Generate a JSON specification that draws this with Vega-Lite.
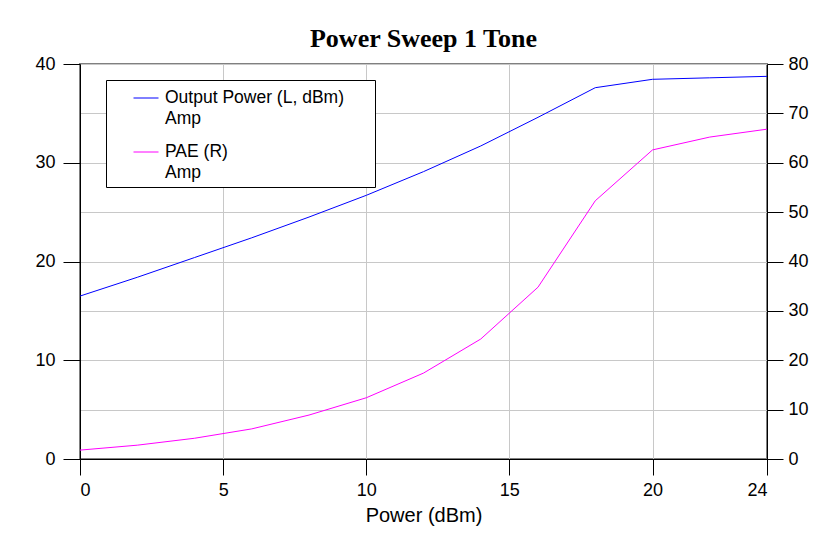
{
  "$schema": "https://vega.github.io/schema/vega-lite/v6.json",
  "width": 687,
  "height": 395,
  "autosize": {"type": "none"},
  "padding": {"left": 80, "top": 64, "right": 58, "bottom": 86},
  "background": "white",
  "title": {"text": "Power Sweep 1 Tone", "font": "Liberation Serif", "fontSize": 26, "fontWeight": "bold", "color": "black", "anchor": "middle", "offset": 3},
  "config": {
    "view": {"stroke": "#808080", "strokeWidth": 2},
    "axis": {
      "labelFont": "Liberation Sans", "labelFontSize": 18, "labelColor": "black",
      "titleFont": "Liberation Sans", "titleFontSize": 20, "titleFontWeight": "normal", "titleColor": "black",
      "tickColor": "black", "tickSize": 16, "domainColor": "black", "labelPadding": 6,
      "gridColor": "#c8c8c8", "gridWidth": 1
    }
  },
  "data": {
    "values": [
      {"power": 0, "series": "Output Power (L, dBm)", "value": 16.5},
      {"power": 2, "series": "Output Power (L, dBm)", "value": 18.4},
      {"power": 4, "series": "Output Power (L, dBm)", "value": 20.4},
      {"power": 6, "series": "Output Power (L, dBm)", "value": 22.4},
      {"power": 8, "series": "Output Power (L, dBm)", "value": 24.5},
      {"power": 10, "series": "Output Power (L, dBm)", "value": 26.7},
      {"power": 12, "series": "Output Power (L, dBm)", "value": 29.1},
      {"power": 14, "series": "Output Power (L, dBm)", "value": 31.7},
      {"power": 16, "series": "Output Power (L, dBm)", "value": 34.6},
      {"power": 18, "series": "Output Power (L, dBm)", "value": 37.6},
      {"power": 20, "series": "Output Power (L, dBm)", "value": 38.45},
      {"power": 22, "series": "Output Power (L, dBm)", "value": 38.6},
      {"power": 24, "series": "Output Power (L, dBm)", "value": 38.75},
      {"power": 0, "series": "PAE (R)", "value": 1.8},
      {"power": 2, "series": "PAE (R)", "value": 2.8},
      {"power": 4, "series": "PAE (R)", "value": 4.2},
      {"power": 6, "series": "PAE (R)", "value": 6.1},
      {"power": 8, "series": "PAE (R)", "value": 8.9},
      {"power": 10, "series": "PAE (R)", "value": 12.4},
      {"power": 12, "series": "PAE (R)", "value": 17.4},
      {"power": 14, "series": "PAE (R)", "value": 24.3},
      {"power": 16, "series": "PAE (R)", "value": 34.8},
      {"power": 18, "series": "PAE (R)", "value": 52.3},
      {"power": 20, "series": "PAE (R)", "value": 62.6},
      {"power": 22, "series": "PAE (R)", "value": 65.2},
      {"power": 24, "series": "PAE (R)", "value": 66.8}
    ]
  },
  "encoding": {
    "x": {
      "field": "power", "type": "quantitative",
      "scale": {"domain": [0, 24], "nice": false, "zero": false},
      "axis": {"values": [0, 5, 10, 15, 20, 24], "title": "Power (dBm)", "grid": true, "titlePadding": 6}
    },
    "color": {
      "field": "series", "type": "nominal",
      "scale": {"domain": ["Output Power (L, dBm)", "PAE (R)"], "range": ["#0000ff", "#ff00ff"]},
      "legend": {
        "orient": "none", "legendX": 26, "legendY": 16, "title": null,
        "fillColor": "white", "strokeColor": "black", "padding": 5,
        "labelFont": "Liberation Sans", "labelFontSize": 17.5, "labelColor": "black",
        "symbolType": "stroke", "symbolSize": 625, "symbolStrokeWidth": 1,
        "symbolOffset": 22, "labelOffset": 6, "rowPadding": 11, "labelLimit": 400,
        "labelExpr": "[datum.label + '\u2800\u2800', 'Amp']",
        "encode": {"labels": {"update": {"lineHeight": {"value": 21}}}}
      }
    }
  },
  "layer": [
    {
      "transform": [{"filter": "datum.series === 'Output Power (L, dBm)'"}],
      "mark": {"type": "line", "strokeWidth": 1},
      "encoding": {
        "y": {
          "field": "value", "type": "quantitative",
          "scale": {"domain": [0, 40], "nice": false},
          "axis": {"orient": "left", "values": [0, 10, 20, 30, 40], "title": null, "grid": false, "tickSize": 17, "labelPadding": 8}
        }
      }
    },
    {
      "transform": [{"filter": "datum.series === 'PAE (R)'"}],
      "mark": {"type": "line", "strokeWidth": 1},
      "encoding": {
        "y": {
          "field": "value", "type": "quantitative",
          "scale": {"domain": [0, 80], "nice": false},
          "axis": {"orient": "right", "values": [0, 10, 20, 30, 40, 50, 60, 70, 80], "title": null, "grid": true, "labelPadding": 5}
        }
      }
    }
  ],
  "resolve": {"scale": {"y": "independent"}}
}
